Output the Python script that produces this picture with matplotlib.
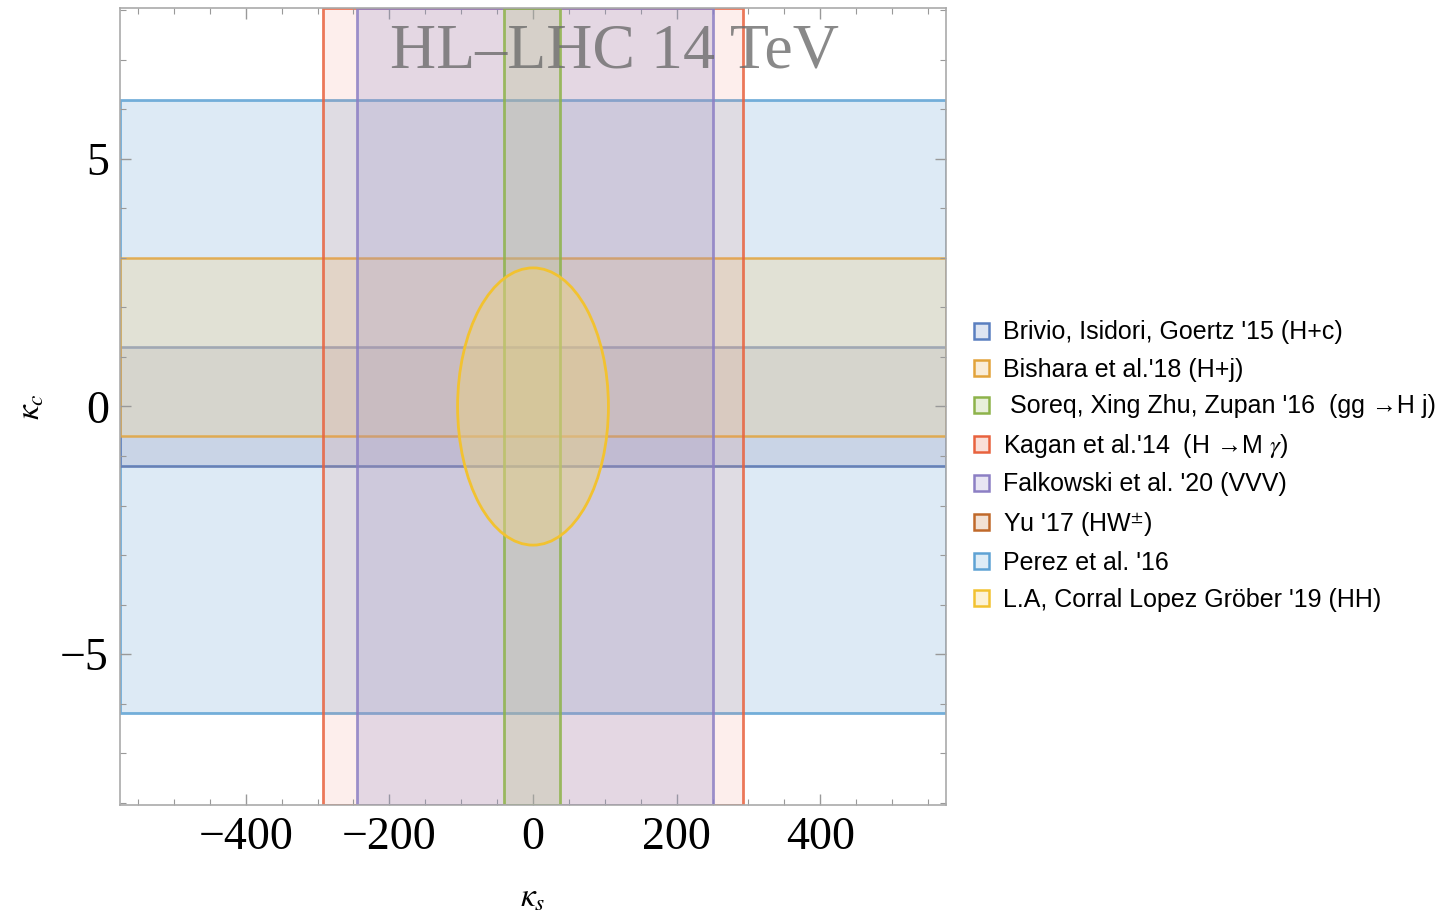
import numpy as np
import matplotlib
matplotlib.use("Agg")
import matplotlib.pyplot as plt
from matplotlib.colors import to_rgba
from matplotlib.patches import Patch, Ellipse
from matplotlib.ticker import MultipleLocator

# bounds
labels = ["Brivio, Isidori, Goertz '15 (H+c)",
          "Bishara et al.'18 (H+j)",
          " Soreq, Xing Zhu, Zupan '16  (gg \u2192H j)",
          "Kagan et al.'14  (H \u2192M $\\gamma$)",
          "Falkowski et al. '20 (VVV)",
          "Yu '17 (HW$^{\\pm}$)",
          "Perez et al. '16",
          "L.A, Corral Lopez Gr\u00f6ber '19 (HH)"]
edge_cols = ["#5a7fc0", "#e2a33a", "#8db34a", "#e8623e",
             "#8c7fc4", "#c0692a", "#5ea2d4", "#f2c230"]

# horizontal bands in kappa_c (full kappa_s range)
brivio_kc = (-1.2, 1.2)
bishara_kc = (-0.6, 3.0)
yu_kc = (-1.2, 1.2)
perez_kc = (-6.2, 6.2)
# vertical bands in kappa_s (full kappa_c range)
soreq_ks = (-40, 37)
kagan_ks = (-292, 292)
falk_ks = (-245, 250)
# ellipse (HH)
hh_ks = 105
hh_kc = 2.8

plt.rcParams["mathtext.fontset"] = "stix"
fig = plt.figure(figsize=(14.49, 9.21), dpi=100)
ax = fig.add_axes([120/1449, 116/921, 826/1449, 797/921])
ax.set_xlim(-575, 575)
ax.set_ylim(-8.05, 8.05)

ax.text(113, 7.15, "HL\u2013LHC 14 TeV", ha="center", va="center",
        fontsize=46, color="#6c6c6c", alpha=0.8, family="Liberation Serif", zorder=3)

def band(fn, lims, fc, a, ec, lw, z):
    fn(*lims, facecolor=to_rgba(fc, a), edgecolor=to_rgba(ec, 0.85), lw=lw, zorder=z)

band(ax.axhspan, perez_kc, "#d2e4f2", 0.75, edge_cols[6], 2, 1)
band(ax.axhspan, yu_kc, "#e8c8b0", 0.12, edge_cols[5], 1, 1.1)
band(ax.axhspan, brivio_kc, "#b0c0e0", 0.45, edge_cols[0], 2, 1.2)
band(ax.axhspan, bishara_kc, "#e8d8b0", 0.45, edge_cols[1], 1.8, 1.4)
band(ax.axvspan, kagan_ks, "#f08070", 0.13, edge_cols[3], 2, 1.5)
band(ax.axvspan, falk_ks, "#9890c8", 0.24, edge_cols[4], 2, 1.6)
band(ax.axvspan, soreq_ks, "#b8c090", 0.3, edge_cols[2], 2, 1.7)
ax.add_patch(Ellipse((0, 0), 2*hh_ks, 2*hh_kc, facecolor=to_rgba("#e8cf86", 0.5),
                     edgecolor=edge_cols[7], lw=2, zorder=1.8))

ax.set_xticks([-400, -200, 0, 200, 400])
ax.set_xticklabels(["\u2212400", "\u2212200", "0", "200", "400"])
ax.set_yticks([-5, 0, 5])
ax.set_yticklabels(["\u22125", "0", "5"])
ax.xaxis.set_minor_locator(MultipleLocator(50))
ax.yaxis.set_minor_locator(MultipleLocator(1))
ax.tick_params(which="both", direction="in", top=True, right=True, color="#999999")
ax.tick_params(which="major", length=8, width=1, labelsize=33, pad=8)
ax.tick_params(which="minor", length=4, width=0.8)
for lab in ax.get_xticklabels() + ax.get_yticklabels():
    lab.set_family("Liberation Serif")
for s in ax.spines.values():
    s.set_color("#aaaaaa")
    s.set_linewidth(1.2)

ax.set_xlabel(r"$\kappa_s$", fontsize=24, labelpad=16)
ax.set_ylabel(r"$\kappa_c$", fontsize=24, labelpad=10)

handles = [Patch(facecolor=to_rgba(c, 0.2), edgecolor=c, lw=1.8) for c in edge_cols]
leg = fig.legend(handles, labels, loc="upper left", bbox_to_anchor=(951/1449, 1 - 298/921),
                 frameon=False, handlelength=0.62, handleheight=0.62, handletextpad=0.55,
                 labelspacing=0.52, prop={"family": ["Liberation Sans", "DejaVu Sans"], "size": 18})

fig.savefig("out.png", dpi=100, facecolor="white")
